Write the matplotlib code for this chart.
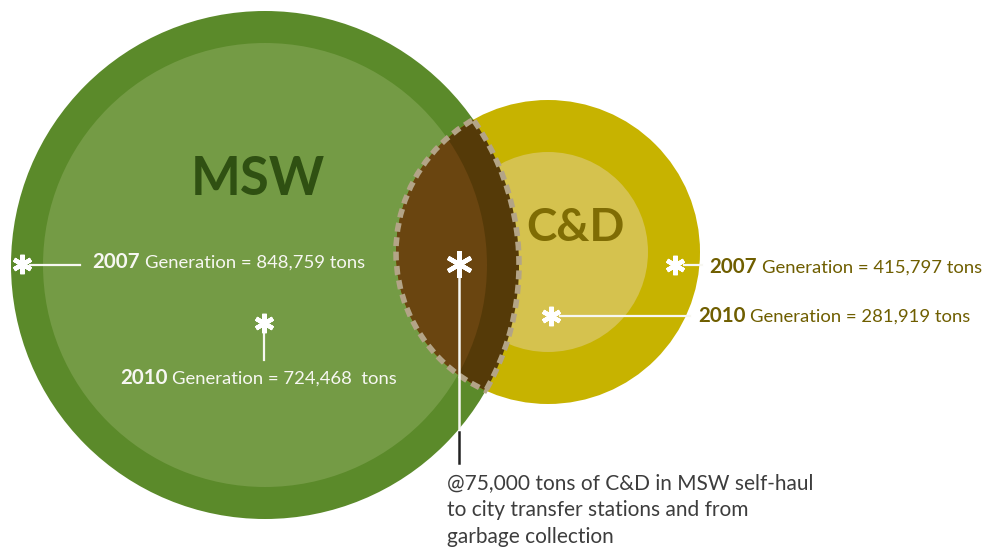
import matplotlib.pyplot as plt
from matplotlib.patches import Circle
from matplotlib.markers import MarkerStyle

# tonnage figures
groups = ["MSW", "C&D"]
gen_2007 = [848759, 415797]
gen_2010 = [724468, 281919]
overlap_tons = 75000
overlap_note = ["in MSW self-haul", "to city transfer stations and from", "garbage collection"]

plt.rcParams['font.family'] = ['Lato', 'DejaVu Sans']

W, H = 990, 548
fig = plt.figure(figsize=(W / 100, H / 100), dpi=100)
ax = fig.add_axes([0, 0, 1, 1])
ax.set_xlim(0, W)
ax.set_ylim(H, 0)
ax.set_aspect('equal')
ax.axis('off')

# circle layout (pixels)
msw_c, msw_r, msw_ri = (265, 265), 254, 222
cd_c, cd_r, cd_ri = (548, 252), 152, 100

msw_out = Circle(msw_c, msw_r, facecolor='#5b8a2a', edgecolor='none')
msw_in = Circle(msw_c, msw_ri, facecolor='#749b45', edgecolor='none')
cd_out = Circle(cd_c, cd_r, facecolor='#c7b300', edgecolor='none')
cd_in = Circle(cd_c, cd_ri, facecolor='#d5c24e', edgecolor='none')
for p in (msw_out, msw_in, cd_out, cd_in):
    ax.add_patch(p)

# overlap lens: dark part, then lighter part inside the inner MSW ring
lens_dark = Circle(cd_c, cd_r, facecolor='#553a08', edgecolor='none', zorder=3)
ax.add_patch(lens_dark)
lens_dark.set_clip_path(msw_out)
lens_light = Circle(cd_c, cd_r, facecolor='#6a4510', edgecolor='none', zorder=3)
ax.add_patch(lens_light)
lens_light.set_clip_path(msw_in)

# dashed lens outline
for c, r, clip in ((cd_c, cd_r, msw_out), (msw_c, msw_r, cd_out)):
    edge = Circle(c, r, fill=False, edgecolor='#b3a487', lw=4,
                  linestyle=(0, (1.6, 1.0)), zorder=4)
    ax.add_patch(edge)
    edge.set_clip_path(Circle(clip.center, clip.radius + 2, transform=ax.transData))

# group titles
ax.text(258, 195, groups[0], fontsize=38, fontweight='bold', color='#2f5012',
        ha='center', va='baseline', zorder=5)
ax.text(575, 241, groups[1], fontsize=33, fontweight='bold', color='#7f6c04',
        ha='center', va='baseline', zorder=5)

star = MarkerStyle((6, 2, 0), capstyle='round')
renderer = fig.canvas.get_renderer()


def gen_label(x, y, year, value, color, gap='', size=13.3):
    t = ax.text(x, y, year, fontsize=size + 1.5, fontweight='bold', color=color,
                va='baseline', ha='left', zorder=6)
    w = t.get_window_extent(renderer).width
    ax.text(x + w + 5, y, f"Generation = {value:,}{gap} tons", fontsize=size,
            color=color, va='baseline', ha='left', zorder=6)


def asterisk(x, y, ms=14):
    ax.plot(x, y, marker=star, ms=ms, mew=3.2, color='white', zorder=7)


white = '#f7f7f2'
olive = '#6f5e00'

# MSW 2007
asterisk(22, 264)
ax.plot([30, 80], [265, 265], color=white, lw=1.6, zorder=6)
gen_label(92, 268, "2007", gen_2007[0], white)

# MSW 2010
asterisk(264, 323)
ax.plot([264, 264], [331, 360], color=white, lw=1.6, zorder=6)
gen_label(120, 384, "2010", gen_2010[0], white, gap=' ')

# C&D 2007
asterisk(675, 265)
ax.plot([684, 702], [265, 265], color=white, lw=1.6, zorder=6)
gen_label(709, 273, "2007", gen_2007[1], olive)

# C&D 2010
asterisk(551, 316)
ax.plot([560, 690], [316, 316], color=white, lw=1.6, zorder=6)
gen_label(698, 322, "2010", gen_2010[1], olive)

# overlap callout
asterisk(459, 264, ms=19)
ax.plot([459, 459], [272, 428], color=white, lw=1.8, zorder=6)
ax.plot([459, 459], [432, 463], color='#222222', lw=1.8, zorder=6)
note = [f"@{overlap_tons:,} tons of C&D {overlap_note[0]}"] + overlap_note[1:]
for i, line in enumerate(note):
    ax.text(447, 489 + 27 * i, line, fontsize=15, color='#3d3d3d',
            va='baseline', ha='left')

fig.savefig('out.png', dpi=100)
